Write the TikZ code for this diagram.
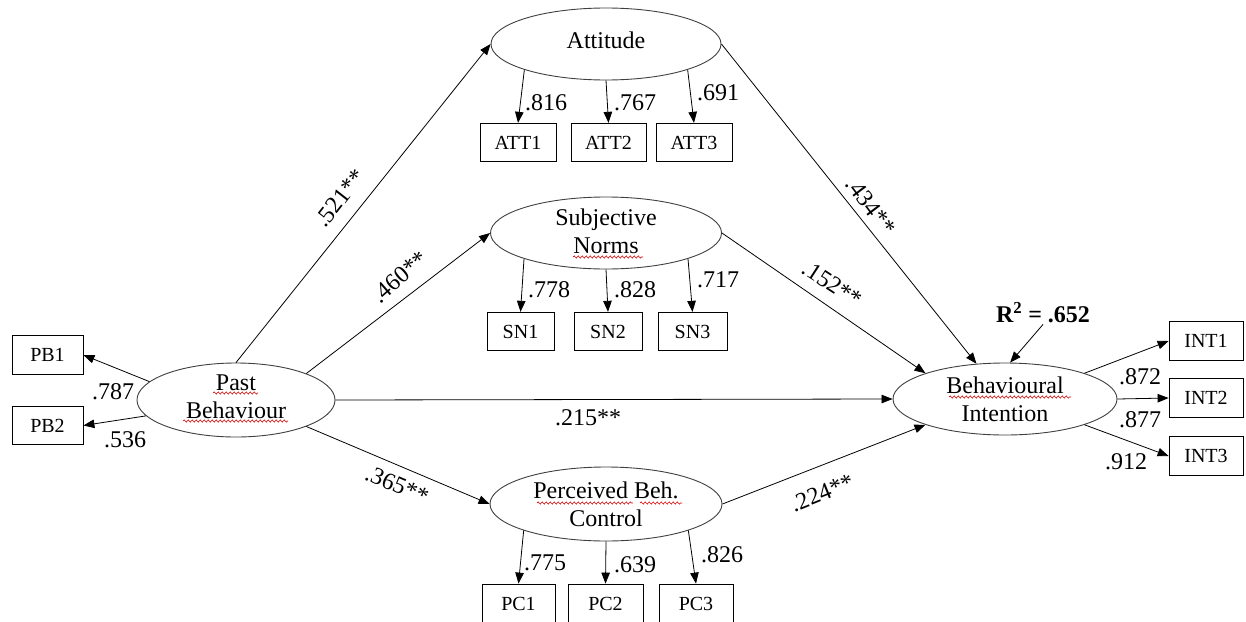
\documentclass[tikz,border=0pt]{standalone}
\usepackage{fontspec}
\setmainfont{Liberation Serif}
\usetikzlibrary{arrows.meta,shapes.geometric,decorations.pathmorphing}
\begin{document}
\begin{tikzpicture}[x=1pt,y=-1pt,
  lat/.style={ellipse,draw=black!75,line width=0.9pt,inner sep=0pt,align=center,font=\fontsize{24}{28}\selectfont},
  obs/.style={rectangle,draw=black,line width=0.8pt,minimum height=38.5pt,inner sep=0pt,font=\fontsize{20}{24}\selectfont},
  coef/.style={inner sep=0pt,font=\fontsize{24}{28}\selectfont},
  arr/.style={draw=black,line width=0.8pt,-{Triangle[length=11pt,width=8.5pt]}},
  spell/.style={draw=red!85!black,line width=0.6pt,decorate,decoration={snake,segment length=4pt,amplitude=1.1pt}},
]
\useasboundingbox (0,0) rectangle (1246,621);
\clip (0,0) rectangle (1246,621);
\fill[white] (0,0) rectangle (1246,621);

% latent variables
\node[lat,text depth=7pt,minimum width=230pt,minimum height=72pt] (att) at (606,44) {Attitude};
\node[lat,text depth=3pt,minimum width=231pt,minimum height=72pt] (sn) at (606,233) {Subjective\\Norms};
\node[lat,minimum width=232pt,minimum height=74pt] (pbc) at (606,504) {Perceived Beh.\\Control};
\node[lat,text depth=7pt,minimum width=198pt,minimum height=74pt] (pb) at (236,400) {Past\\Behaviour};
\node[lat,minimum width=224pt,minimum height=72pt] (bi) at (1005,399) {Behavioural\\Intention};

% spell-check underlines
\coordinate (w1a) at (213,393); \coordinate (w1b) at (258,393);
\coordinate (w2a) at (183,421); \coordinate (w2b) at (288,421);
\coordinate (w3a) at (573,257); \coordinate (w3b) at (643,257);
\coordinate (w4a) at (537,503); \coordinate (w4b) at (633,503);
\coordinate (w5a) at (640,503); \coordinate (w5b) at (682,503);
\coordinate (w6a) at (949,397); \coordinate (w6b) at (1071,397);
\draw[spell] (w1a) -- (w1b);
\draw[spell] (w2a) -- (w2b);
\draw[spell] (w3a) -- (w3b);
\draw[spell] (w4a) -- (w4b);
\draw[spell] (w5a) -- (w5b);
\draw[spell] (w6a) -- (w6b);

% indicators
\node[obs,minimum width=76pt] (att1) at (518,142.5) {ATT1};
\node[obs,minimum width=75pt] (att2) at (608.5,142.5) {ATT2};
\node[obs,minimum width=76pt] (att3) at (694,142.5) {ATT3};
\node[obs,minimum width=67pt] (sn1) at (520.5,331.5) {SN1};
\node[obs,minimum width=68pt] (sn2) at (608,331.5) {SN2};
\node[obs,minimum width=69pt] (sn3) at (692.5,331.5) {SN3};
\node[obs,minimum width=73pt,minimum height=39pt] (pc1) at (518.5,603.5) {PC1};
\node[obs,minimum width=75pt,minimum height=39pt] (pc2) at (605.5,603.5) {PC2};
\node[obs,minimum width=74pt,minimum height=39pt] (pc3) at (696,603.5) {PC3};
\node[obs,minimum width=71pt] (pb1) at (47.5,355) {PB1};
\node[obs,minimum width=71pt] (pb2) at (47.5,425.5) {PB2};
\node[obs,minimum width=74pt] (int1) at (1206,341) {INT1};
\node[obs,minimum width=74pt] (int2) at (1206,398) {INT2};
\node[obs,minimum width=74pt] (int3) at (1206,456) {INT3};

% measurement arrows
\draw[arr] (att.south west) -- (att1.north);
\draw[arr] (att.south) -- (att2.north);
\draw[arr] (att.south east) -- (att3.north);
\draw[arr] (sn.south west) -- (sn1.north);
\draw[arr] (sn.south) -- (sn2.north);
\draw[arr] (sn.south east) -- (sn3.north);
\draw[arr] (pbc.south west) -- (pc1.north);
\draw[arr] (pbc.south) -- (pc2.north);
\draw[arr] (pbc.south east) -- (pc3.north);
\draw[arr] (pb.168) -- (pb1.east);
\draw[arr] (pb.190) -- (pb2.east);
\draw[arr] (bi.north east) -- (int1.west);
\draw[arr] (bi.east) -- (int2.west);
\draw[arr] (bi.south east) -- (int3.west);

% structural paths
\draw[arr] (pb.north) -- (att.west);
\draw[arr] (pb.north east) -- (sn.west);
\draw[arr] (pb.east) -- (bi.west);
\draw[arr] (pb.south east) -- (pbc.west);
\draw[arr] (att.east) -- (bi.129);
\draw[arr] (sn.east) -- (bi.north west);
\draw[arr] (pbc.east) -- (bi.south west);

% R squared
\node[coef,inner sep=1pt,font=\fontsize{24}{28}\selectfont\bfseries] (r2) at (1043,313) {R\textsuperscript{2} = .652};
\draw[arr] (r2.south) -- (bi.82);

% loadings
\node[coef] (l1) at (546,103) {.816};
\node[coef] (l2) at (635,103) {.767};
\node[coef] (l3) at (718,93) {.691};
\node[coef] (l4) at (549,290) {.778};
\node[coef] (l5) at (635,290) {.828};
\node[coef] (l6) at (718,280) {.717};
\node[coef] (l7) at (545,563) {.775};
\node[coef] (l8) at (635,565) {.639};
\node[coef] (l9) at (722,555) {.826};
\node[coef] (l10) at (113,392) {.787};
\node[coef] (l11) at (125,440) {.536};
\node[coef] (l12) at (1140,377) {.872};
\node[coef] (l13) at (1140,420) {.877};
\node[coef] (l14) at (1126,462) {.912};

% path coefficients
\node[coef,rotate=52] (p1) at (340,198) {.521**};
\node[coef,rotate=41] (p2) at (400,277) {.460**};
\node[coef] (p3) at (588,418) {.215**};
\node[coef,rotate=-23] (p4) at (397,485) {.365**};
\node[coef,rotate=-53] (p5) at (871,206) {.434**};
\node[coef,rotate=-33] (p6) at (832,284) {.152**};
\node[coef,rotate=22] (p7) at (822,493) {.224**};
\end{tikzpicture}
\end{document}
